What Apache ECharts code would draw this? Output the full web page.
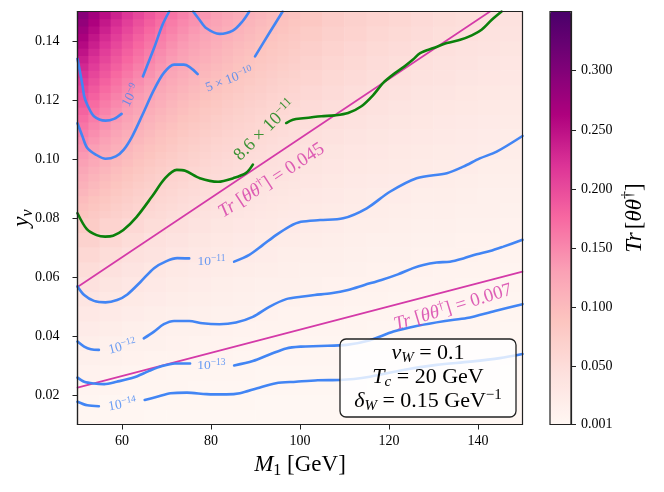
<!DOCTYPE html>
<html><head><meta charset="utf-8">
<script src="https://cdn.jsdelivr.net/npm/echarts@6/dist/echarts.min.js"></script>
<style>html,body{margin:0;padding:0;background:#fff}#c{width:664px;height:492px}</style>
</head><body><div id="c"></div>
<script>
// ---- heat map cells: Tr[theta theta^dagger] (coarse, whole plane) ----
const mCenters = [52.5,57.5,62.5,67.5,72.5,77.5,82.5,87.5,92.5,97.5,102.5,107.5,112.5,117.5,122.5,127.5,132.5,137.5,142.5,147.5];
const yCenters = [0.0125,0.0175,0.0225,0.0275,0.0325,0.0375,0.0425,0.0475,0.0525,0.0575,0.0625,0.0675,0.0725,0.0775,0.0825,0.0875,0.0925,0.0975,0.1025,0.1075,0.1125,0.1175,0.1225,0.1275,0.1325,0.1375,0.1425,0.1475];
const trRows = [
[.002,.002,.002,.001,.001,.001,.001,.001,.001,.001,.001,.001,.001,.001,.001,.001,.001,.001,.001,.001],
[.004,.003,.003,.003,.002,.002,.002,.002,.001,.001,.001,.001,.001,.001,.001,.001,.001,.001,.001,.001],
[.006,.006,.005,.004,.004,.003,.003,.003,.002,.002,.002,.002,.002,.001,.001,.001,.001,.001,.001,.001],
[.010,.008,.007,.006,.005,.005,.004,.004,.003,.003,.003,.003,.002,.002,.002,.002,.002,.002,.002,.001],
[.014,.012,.010,.009,.008,.007,.006,.005,.005,.004,.004,.004,.003,.003,.003,.003,.002,.002,.002,.002],
[.018,.015,.013,.012,.010,.009,.008,.007,.006,.006,.005,.005,.004,.004,.004,.004,.003,.003,.003,.003],
[.023,.020,.017,.015,.013,.012,.010,.009,.008,.008,.007,.006,.006,.005,.005,.005,.004,.004,.004,.003],
[.029,.025,.021,.019,.016,.014,.013,.012,.010,.009,.009,.008,.007,.007,.006,.006,.005,.005,.005,.004],
[.035,.030,.026,.023,.020,.018,.016,.014,.013,.012,.010,.010,.009,.008,.007,.007,.006,.006,.006,.005],
[.042,.036,.031,.027,.024,.021,.019,.017,.015,.014,.013,.011,.011,.010,.009,.008,.008,.007,.007,.006],
[.050,.043,.037,.032,.028,.025,.022,.020,.018,.016,.015,.014,.012,.011,.011,.010,.009,.008,.008,.007],
[.058,.050,.043,.038,.033,.029,.026,.023,.021,.019,.017,.016,.014,.013,.012,.011,.011,.010,.009,.009],
[.067,.058,.050,.043,.038,.034,.030,.027,.024,.022,.020,.018,.017,.015,.014,.013,.012,.011,.011,.010],
[.077,.066,.057,.050,.044,.039,.034,.031,.028,.025,.023,.021,.019,.018,.016,.015,.014,.013,.012,.011],
[.087,.075,.064,.056,.049,.044,.039,.035,.031,.028,.026,.024,.022,.020,.018,.017,.016,.015,.014,.013],
[.098,.084,.072,.063,.056,.049,.044,.039,.035,.032,.029,.027,.024,.022,.021,.019,.018,.017,.015,.014],
[.109,.094,.081,.071,.062,.055,.049,.044,.040,.036,.033,.030,.027,.025,.023,.021,.020,.018,.017,.016],
[.122,.104,.090,.078,.069,.061,.054,.049,.044,.040,.036,.033,.030,.028,.026,.024,.022,.021,.019,.018],
[.134,.115,.099,.087,.076,.067,.060,.054,.049,.044,.040,.036,.033,.031,.028,.026,.024,.023,.021,.020],
[.148,.127,.109,.095,.084,.074,.066,.059,.053,.048,.044,.040,.037,.034,.031,.029,.027,.025,.023,.022],
[.162,.139,.120,.104,.092,.081,.072,.065,.058,.053,.048,.044,.040,.037,.034,.032,.029,.027,.025,.024],
[.177,.151,.131,.114,.100,.089,.079,.071,.064,.058,.052,.048,.044,.040,.037,.034,.032,.030,.028,.026],
[.192,.164,.142,.124,.109,.096,.086,.077,.069,.063,.057,.052,.048,.044,.041,.037,.035,.032,.030,.028],
[.208,.178,.154,.134,.118,.104,.093,.083,.075,.068,.062,.056,.052,.048,.044,.041,.038,.035,.033,.031],
[.225,.192,.166,.145,.127,.113,.100,.090,.081,.073,.067,.061,.056,.051,.047,.044,.041,.038,.035,.033],
[.242,.207,.179,.156,.137,.121,.108,.097,.087,.079,.072,.066,.060,.055,.051,.047,.044,.041,.038,.036],
[.260,.222,.192,.168,.147,.130,.116,.104,.094,.085,.077,.070,.065,.059,.055,.051,.047,.044,.041,.038],
[.278,.238,.206,.180,.158,.140,.124,.112,.100,.091,.083,.075,.069,.064,.059,.054,.050,.047,.044,.041]
];
// ---- finer cells for the steep upper-left part (M1 50-100, y 0.08-0.15) ----
const mFine = [51.25,53.75,56.25,58.75,61.25,63.75,66.25,68.75,71.25,73.75,76.25,78.75,81.25,83.75,86.25,88.75,91.25,93.75,96.25,98.75];
const yFine = [0.08125,0.08375,0.08625,0.08875,0.09125,0.09375,0.09625,0.09875,0.10125,0.10375,0.10625,0.10875,0.11125,0.11375,0.11625,0.11875,0.12125,0.12375,0.12625,0.12875,0.13125,0.13375,0.13625,0.13875,0.14125,0.14375,0.14625,0.14875];
const trFine = [
[.088,.081,.075,.070,.065,.060,.056,.053,.049,.046,.044,.041,.039,.037,.035,.033,.031,.030,.028,.027],
[.093,.086,.080,.074,.069,.064,.060,.056,.053,.049,.046,.044,.041,.039,.037,.035,.033,.032,.030,.029],
[.099,.091,.085,.079,.073,.068,.064,.059,.056,.052,.049,.046,.044,.041,.039,.037,.035,.033,.032,.030],
[.105,.097,.090,.083,.077,.072,.067,.063,.059,.055,.052,.049,.046,.044,.041,.039,.037,.035,.034,.032],
[.111,.102,.095,.088,.082,.076,.071,.067,.062,.059,.055,.052,.049,.046,.044,.042,.039,.037,.036,.034],
[.117,.108,.100,.093,.086,.080,.075,.070,.066,.062,.058,.055,.052,.049,.046,.044,.042,.040,.038,.036],
[.123,.114,.105,.098,.091,.085,.079,.074,.069,.065,.061,.058,.055,.052,.049,.046,.044,.042,.040,.038],
[.130,.120,.111,.103,.096,.089,.083,.078,.073,.069,.065,.061,.057,.054,.051,.049,.046,.044,.042,.040],
[.137,.126,.117,.108,.101,.094,.088,.082,.077,.072,.068,.064,.060,.057,.054,.051,.049,.046,.044,.042],
[.143,.132,.122,.114,.106,.098,.092,.086,.081,.076,.071,.067,.063,.060,.057,.054,.051,.048,.046,.044],
[.150,.139,.128,.119,.111,.103,.096,.090,.085,.079,.075,.070,.066,.063,.059,.056,.053,.051,.048,.046],
[.158,.145,.135,.125,.116,.108,.101,.094,.089,.083,.078,.074,.070,.066,.062,.059,.056,.053,.051,.048],
[.165,.152,.141,.131,.121,.113,.106,.099,.093,.087,.082,.077,.073,.069,.065,.062,.059,.056,.053,.050],
[.172,.159,.147,.137,.127,.118,.110,.103,.097,.091,.086,.081,.076,.072,.068,.065,.061,.058,.055,.053],
[.180,.166,.154,.143,.133,.124,.115,.108,.101,.095,.089,.084,.080,.075,.071,.067,.064,.061,.058,.055],
[.188,.173,.160,.149,.138,.129,.120,.113,.106,.099,.093,.088,.083,.078,.074,.070,.067,.063,.060,.058],
[.196,.181,.167,.155,.144,.134,.126,.117,.110,.103,.097,.092,.087,.082,.077,.073,.070,.066,.063,.060],
[.204,.188,.174,.162,.150,.140,.131,.122,.115,.108,.101,.095,.090,.085,.081,.076,.073,.069,.066,.062],
[.212,.196,.181,.168,.156,.146,.136,.127,.119,.112,.105,.099,.094,.089,.084,.080,.076,.072,.068,.065],
[.221,.204,.189,.175,.163,.152,.142,.132,.124,.117,.110,.103,.098,.092,.087,.083,.079,.075,.071,.068],
[.229,.212,.196,.182,.169,.157,.147,.138,.129,.121,.114,.107,.101,.096,.091,.086,.082,.078,.074,.070],
[.238,.220,.204,.189,.176,.164,.153,.143,.134,.126,.118,.112,.105,.100,.094,.089,.085,.081,.077,.073],
[.247,.228,.211,.196,.182,.170,.158,.148,.139,.131,.123,.116,.109,.103,.098,.093,.088,.084,.080,.076],
[.256,.237,.219,.203,.189,.176,.164,.154,.144,.135,.127,.120,.113,.107,.101,.096,.091,.087,.082,.079],
[.266,.245,.227,.211,.196,.182,.170,.159,.149,.140,.132,.124,.117,.111,.105,.100,.095,.090,.085,.081],
[.275,.254,.235,.218,.203,.189,.176,.165,.155,.145,.137,.129,.122,.115,.109,.103,.098,.093,.089,.084],
[.285,.263,.243,.226,.210,.196,.183,.171,.160,.150,.142,.133,.126,.119,.113,.107,.101,.096,.092,.087],
[.295,.272,.252,.234,.217,.202,.189,.177,.166,.156,.146,.138,.130,.123,.117,.110,.105,.100,.095,.090]
];

// ---- contour lines [M1, y_nu]; null = gap for inline label ----
const c1e9 = [[50,0.134],[51.1,0.1252],[51.5,0.1213],[52.2,0.1184],[53.7,0.1145],[56.3,0.1130],[58.2,0.1136],[59.9,0.1153],null,[64.7,0.1280],[67.2,0.1376],[69.1,0.1455],[70.6,0.150]];
const cTop = [[76.0,0.150],[77.4,0.1472],[78.9,0.1444],[81.9,0.1424],[84.9,0.1435],[87.1,0.1467],[88.6,0.150]];
const c5e10 = [[50,0.1121],[51.1,0.1077],[52.2,0.1037],[54.1,0.1015],[56.3,0.1001],[58.6,0.1009],[60.4,0.1032],[62.3,0.1077],[64.6,0.1150],[67.2,0.1235],[69.4,0.1292],[71.7,0.1320],[73.9,0.1320],[77.0,0.1288],null,[89.9,0.1348],[93.1,0.1427],[96.1,0.150]];
const c86e12 = [[50,0.0816],[52.1,0.0762],[54.3,0.0742],[56.2,0.0737],[58.0,0.0740],[60.3,0.0759],[63.3,0.0804],[66.7,0.0872],[69.7,0.0935],[72.3,0.0963],[74.2,0.0960],[77.5,0.0935],[81.6,0.0923],[85.0,0.0935],[87.9,0.0953],[89.4,0.0981],null,[96.9,0.1122],[98.4,0.1133],[100.7,0.1138],[104.8,0.1145],[107.8,0.1148],[110.8,0.1156],[113.8,0.1179],[116.4,0.1216],[118.7,0.1258],[120.9,0.1286],[123.5,0.1314],[125.4,0.1337],[127.0,0.1359],[130.0,0.1376],[133.0,0.1393],[136.0,0.1404],[138.6,0.1419],[140.8,0.1438],[143.1,0.1472],[145.3,0.150]];
const c1e11 = [[50,0.0568],[51.5,0.0539],[53.7,0.0519],[56.3,0.0514],[58.9,0.0522],[61.2,0.0541],[64.2,0.0584],[67.2,0.0630],[70.0,0.0654],[72.4,0.0664],[75.1,0.0663],null,[85.2,0.0652],[88.6,0.0675],[91.6,0.0708],[94.6,0.0742],[97.6,0.0771],[100.2,0.0787],[104.5,0.0793],[109.7,0.0799],[115.0,0.0833],[120.2,0.0889],[126.2,0.0935],[133.0,0.0952],[136.7,0.0974],[140.4,0.1002],[144.2,0.1025],[150,0.1078]];
const c1e12 = [[50,0.0381],[51.5,0.0364],[53.0,0.0355],[54.8,0.0353],null,[64.9,0.0392],[67.2,0.0415],[69.4,0.0440],[71.7,0.0451],[75.1,0.0451],[78.1,0.0443],[81.9,0.0440],[85.6,0.0446],[89.4,0.0465],[93.1,0.0499],[96.9,0.0525],[100.2,0.0533],[103.3,0.0539],[107.0,0.0545],[110.8,0.0556],[114.5,0.0573],[118.3,0.0590],[122.0,0.0609],[125.4,0.0630],[127.7,0.0641],[130.7,0.0649],[133.7,0.0652],[136.7,0.0663],[139.7,0.0677],[142.7,0.0688],[145.7,0.0703],[150,0.0726]];
const c1e13 = [[50,0.0259],[51.5,0.0245],[53.7,0.0239],[56.0,0.0237],[58.8,0.0245],[62.6,0.0259],[66.0,0.0281],[69.0,0.0298],[71.9,0.0307],[75.3,0.0307],null,[85.2,0.0300],[89.4,0.0315],[93.3,0.0338],[96.9,0.0358],[100.2,0.0364],[104.5,0.0366],[110.5,0.0370],[115.7,0.0386],[121.0,0.0415],[126.2,0.0434],[132.6,0.0451],[137.5,0.0461],[143.8,0.0485],[150,0.0508]];
const c1e14 = [[50,0.0177],[52.2,0.0165],[54.8,0.0162],null,[65.1,0.0183],[67.9,0.0194],[70.9,0.0206],[74.6,0.0208],[79.0,0.0203],[83.5,0.0202],[86.5,0.0206],[90.4,0.0223],[94.6,0.0240],[99.1,0.0245],[104.0,0.0250],[109.0,0.0251],[115.7,0.0262],[123.2,0.0285],[130.7,0.0302],[138.2,0.0313],[144.9,0.0325],[150,0.0339]];
// Tr[θθ†] iso-lines
const tr045 = [[50,0.0566],[142.7,0.150]];
const tr007 = [[50,0.0225],[150,0.0618]];

// ---- inline label anchors [M1, y_nu] ----
const labE9 = [62.0,0.1216], labE510 = [84.1,0.1269], labE11 = [80.1,0.0653], labE12 = [60.1,0.0364];
const labE13 = [80.1,0.0300], labE14 = [60.1,0.0168], lab86 = [92.1,0.1098];
const labTr045 = [93.6,0.0927], labTr007 = [134.4,0.0497];

// ---- ticks ----
const xTicks = [60,80,100,120,140];
const yTicks = [0.02,0.04,0.06,0.08,0.10,0.12,0.14];
const cbTicks = [0.001,0.05,0.10,0.15,0.20,0.25,0.30];

const F = 'Liberation Serif';
const RDPU = ['#fff7f3','#fde0dd','#fcc5c0','#fa9fb5','#f768a1','#dd3497','#ae017e','#7a0177','#49006a'];
const BLUE = '#4285f4', GREEN = '#0b800b', MAG = '#d43aa8';
const GRID = {left:77.5, top:11.5, width:445, height:413, outerBoundsMode:'none', containLabel:false};
const GRID_FINE = {left:77.5, top:11.5, width:222.5, height:206.5, outerBoundsMode:'none', containLabel:false};

function segs(arr){const out=[];let cur=[];arr.forEach(p=>{if(p===null){if(cur.length)out.push(cur);cur=[];}else cur.push(p);});if(cur.length)out.push(cur);return out;}
function lines(arr,color,width){return segs(arr).map(d=>({type:'line',xAxisIndex:1,yAxisIndex:1,data:d,symbol:'none',smooth:0.3,silent:true,z:3,lineStyle:{color:color,width:width,cap:'round'}}));}
function richSet(color,size,supSize){return {
  n:{fontSize:size,fontFamily:F,color:color,lineHeight:size+3},
  i:{fontSize:size,fontFamily:F,fontStyle:'italic',color:color,lineHeight:size+3},
  p:{fontSize:supSize,fontFamily:F,color:color,verticalAlign:'top',lineHeight:Math.round(size*0.4)}
};}
function lab(pos,text,rot,color,size,supSize){return {type:'scatter',xAxisIndex:1,yAxisIndex:1,data:[pos],symbolSize:0,silent:true,z:6,
  label:{show:true,position:'inside',formatter:text,rotate:rot,fontFamily:F,fontSize:size,color:color,rich:richSet(color,size,supSize)}};}

const heat = [];
trRows.forEach((row,j)=>row.forEach((v,i)=>heat.push([i,j,v])));
const heatFine = [];
trFine.forEach((row,j)=>row.forEach((v,i)=>heatFine.push([i,j,v])));

const subRich = (size)=>({
  n:{fontSize:size,fontFamily:F,color:'#000',lineHeight:size+4},
  i:{fontSize:size,fontFamily:F,fontStyle:'italic',color:'#000',lineHeight:size+4},
  s:{fontSize:Math.round(size*0.7),fontFamily:F,fontStyle:'italic',color:'#000',verticalAlign:'bottom',lineHeight:Math.round(size*0.45)},
  su:{fontSize:Math.round(size*0.7),fontFamily:F,color:'#000',verticalAlign:'bottom',lineHeight:Math.round(size*0.45)},
  p:{fontSize:Math.round(size*0.7),fontFamily:F,color:'#000',verticalAlign:'top',lineHeight:Math.round(size*0.4)}
});

const series = [
  {type:'heatmap',xAxisIndex:0,yAxisIndex:0,data:heat,silent:true,progressive:0,itemStyle:{borderWidth:0},emphasis:{disabled:true}},
  {type:'heatmap',xAxisIndex:3,yAxisIndex:3,data:heatFine,silent:true,progressive:0,itemStyle:{borderWidth:0},emphasis:{disabled:true}},
  ...lines(tr045,MAG,1.7), ...lines(tr007,MAG,1.7),
  ...lines(c1e9,BLUE,2.6), ...lines(cTop,BLUE,2.6), ...lines(c5e10,BLUE,2.6),
  ...lines(c1e11,BLUE,2.6), ...lines(c1e12,BLUE,2.6), ...lines(c1e13,BLUE,2.6), ...lines(c1e14,BLUE,2.6),
  ...lines(c86e12,GREEN,2.6),
  lab(labE9,'{n|10}{p|−9}',63,BLUE,13.5,9.5),
  lab(labE510,'{n|5 × 10}{p|−10}',21,BLUE,13.5,9.5),
  lab(labE11,'{n|10}{p|−11}',0,BLUE,13.5,9.5),
  lab(labE12,'{n|10}{p|−12}',15,BLUE,13.5,9.5),
  lab(labE13,'{n|10}{p|−13}',0,BLUE,13.5,9.5),
  lab(labE14,'{n|10}{p|−14}',10,BLUE,13.5,9.5),
  lab(lab86,'{n|8.6 × 10}{p|−11}',45,GREEN,18,12.5),
  lab(labTr045,'{i|Tr} {n|[}{i|θθ}{p|†}{n|] = 0.045}',33,MAG,19,13),
  lab(labTr007,'{i|Tr} {n|[}{i|θθ}{p|†}{n|] = 0.007}',17,MAG,19,13)
];

const axLine = {show:true,onZero:false,lineStyle:{color:'#222',width:1.2}};
const option = {
  animation:false,
  backgroundColor:'#fff',
  textStyle:{fontFamily:F},
  grid:[
    Object.assign({show:false},GRID),
    Object.assign({show:true,borderColor:'#222',borderWidth:1.2,backgroundColor:'transparent',z:10},GRID),
    {left:550,top:11.5,width:21,height:413,show:true,borderColor:'#222',borderWidth:1.2,backgroundColor:'transparent',z:10,outerBoundsMode:'none',containLabel:false},
    Object.assign({show:false},GRID_FINE)
  ],
  xAxis:[
    {type:'category',gridIndex:0,data:mCenters.map(String),show:false},
    {type:'value',gridIndex:1,min:50,max:150,position:'bottom',z:10,axisLine:axLine,
     axisTick:{show:true,length:5,lineStyle:{color:'#222',width:1},customValues:xTicks},
     axisLabel:{show:true,customValues:xTicks,margin:10,fontSize:14,fontFamily:F,color:'#000',formatter:v=>String(v)},
     splitLine:{show:false},
     name:'{i|M}{su|1}{n| [GeV]}',nameLocation:'middle',nameGap:27,nameMoveOverlap:false,nameTextStyle:{rich:subRich(23)}},
    {type:'value',gridIndex:2,min:0,max:1,show:false},
    {type:'category',gridIndex:3,data:mFine.map(String),show:false}
  ],
  yAxis:[
    {type:'category',gridIndex:0,data:yCenters.map(String),show:false},
    {type:'value',gridIndex:1,min:0.01,max:0.15,position:'left',z:10,axisLine:axLine,
     axisTick:{show:true,length:5,lineStyle:{color:'#222',width:1},customValues:yTicks},
     axisLabel:{show:true,customValues:yTicks,margin:18,fontSize:14,fontFamily:F,color:'#000',formatter:v=>v.toFixed(2)},
     splitLine:{show:false},
     name:'{i|y}{s|ν}',nameLocation:'middle',nameGap:42,nameMoveOverlap:false,nameTextStyle:{rich:subRich(23)}},
    {type:'value',gridIndex:2,min:0.001,max:0.35,position:'right',z:10,axisLine:axLine,
     axisTick:{show:true,length:5,lineStyle:{color:'#222',width:1},customValues:cbTicks},
     axisLabel:{show:true,customValues:cbTicks,margin:10,fontSize:14,fontFamily:F,color:'#000',formatter:v=>v.toFixed(3)},
     splitLine:{show:false},
     name:'{i|Tr} {n|[}{i|θθ}{p|†}{n|]}',nameLocation:'middle',nameGap:50,nameMoveOverlap:false,nameTextStyle:{rich:subRich(23)}},
    {type:'category',gridIndex:3,data:yFine.map(String),show:false}
  ],
  visualMap:{type:'continuous',seriesIndex:[0,1],dimension:2,min:0.001,max:0.35,inRange:{color:RDPU},
    calculable:false,orient:'vertical',left:550,top:11.5,itemWidth:21,itemHeight:413,padding:0,show:true,hoverLink:false},
  graphic:[
    {type:'rect',z:100,shape:{x:340,y:339,width:176,height:78,r:6},style:{fill:'rgba(255,255,255,0.8)',stroke:'#222',lineWidth:1.3}},
    {type:'text',z:101,style:{x:428,y:353,align:'center',verticalAlign:'middle',text:'{i|v}{s|W}{n| = 0.1}',rich:subRich(22)}},
    {type:'text',z:101,style:{x:428,y:377,align:'center',verticalAlign:'middle',text:'{i|T}{s|c}{n| = 20 GeV}',rich:subRich(22)}},
    {type:'text',z:101,style:{x:428,y:401,align:'center',verticalAlign:'middle',text:'{i|δ}{s|W}{n| = 0.15 GeV}{p|−1}',rich:subRich(22)}}
  ],
  series:series
};
const chart = echarts.init(document.getElementById('c'),null,{renderer:'canvas'});
chart.setOption(option);
</script></body></html>
